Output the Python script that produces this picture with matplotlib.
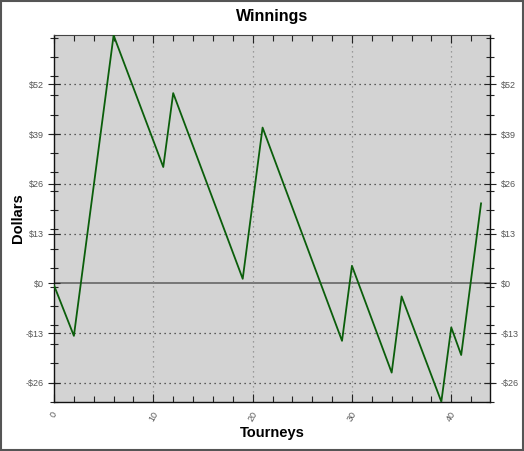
import matplotlib.pyplot as plt
from matplotlib.ticker import FixedLocator, FuncFormatter, MultipleLocator
import numpy as np

plt.rcParams['font.family'] = ['Liberation Sans', 'DejaVu Sans']

# vertices of the cumulative winnings line (tourney index, dollars)
tourneys = [0, 2, 6, 11, 12, 19, 21, 29, 30, 34, 35, 39, 40, 41, 43]
dollars = [-0.5, -13.7, 64.8, 30.4, 49.7, 1.2, 40.7, -15.0, 4.6, -23.3, -3.4, -30.9, -11.5, -18.7, 20.9]

y_major = [-26, -13, 0, 13, 26, 39, 52]
x_major = [0, 10, 20, 30, 40]


def money(v, pos=None):
    v = int(round(v))
    return f"-${-v}" if v < 0 else f"${v}"


fig = plt.figure(figsize=(5.24, 4.51), dpi=100)
fig.patch.set_facecolor('white')
ax = fig.add_axes([0.1031, 0.1093, 0.8320, 0.8124])
ax.set_facecolor('#d3d3d3')

# figure border
fig.add_artist(plt.Rectangle((0.002, 0.002), 0.996, 0.996, transform=fig.transFigure,
                             fill=False, edgecolor='#555555', linewidth=1.5))

ymin, ymax = min(dollars), max(dollars)
ax.set_xlim(0, 43.9)
ax.set_ylim(ymin, ymax)

# grid
for yv in y_major:
    if yv == 0:
        ax.axhline(0, color='#666666', linewidth=1.2, zorder=1)
    else:
        ax.axhline(yv, color='#333333', linewidth=0.9, linestyle=(0, (1, 3)), zorder=1)
for xv in x_major[1:]:
    ax.axvline(xv, color='#888888', linewidth=0.9, linestyle=(0, (1, 3)), zorder=1)

ax.plot(tourneys, dollars, color='#0b5e0b', linewidth=1.3, zorder=3)

# ticks
ax.yaxis.set_major_locator(FixedLocator(y_major))
ax.yaxis.set_minor_locator(FixedLocator(np.arange(ymin, ymax, 5)))
ax.yaxis.set_major_formatter(FuncFormatter(money))
ax.xaxis.set_major_locator(FixedLocator(x_major))
ax.xaxis.set_minor_locator(MultipleLocator(2))

ax.tick_params(axis='y', which='both', left=True, right=True, labelleft=True, labelright=True,
               direction='inout', labelsize=6.5, labelcolor='#555555', color='#222222')
ax.tick_params(axis='y', which='major', length=9, width=0.8, pad=3)
ax.tick_params(axis='y', which='minor', length=6, width=0.8)
ax.tick_params(axis='x', which='both', bottom=True, top=True, direction='in',
               labelsize=6.5, labelcolor='#555555', color='#222222')
ax.tick_params(axis='x', which='major', length=6, width=0.8, pad=6, labelrotation=60)
ax.tick_params(axis='x', which='minor', length=4, width=0.8)
for lab in ax.get_xticklabels():
    lab.set_ha('center')
    lab.set_va('top')

for side in ['left', 'bottom', 'right']:
    ax.spines[side].set_color('#111111')
    ax.spines[side].set_linewidth(1.0)
ax.spines['top'].set_color('#444444')
ax.spines['top'].set_linewidth(0.8)

ax.set_title('Winnings', fontsize=11.5, fontweight='bold', pad=10)
ax.set_xlabel('Tourneys', fontsize=10.5, fontweight='bold', labelpad=2)
ax.set_ylabel('Dollars', fontsize=10.5, fontweight='bold', labelpad=0)

fig.savefig('out.png', dpi=100)
